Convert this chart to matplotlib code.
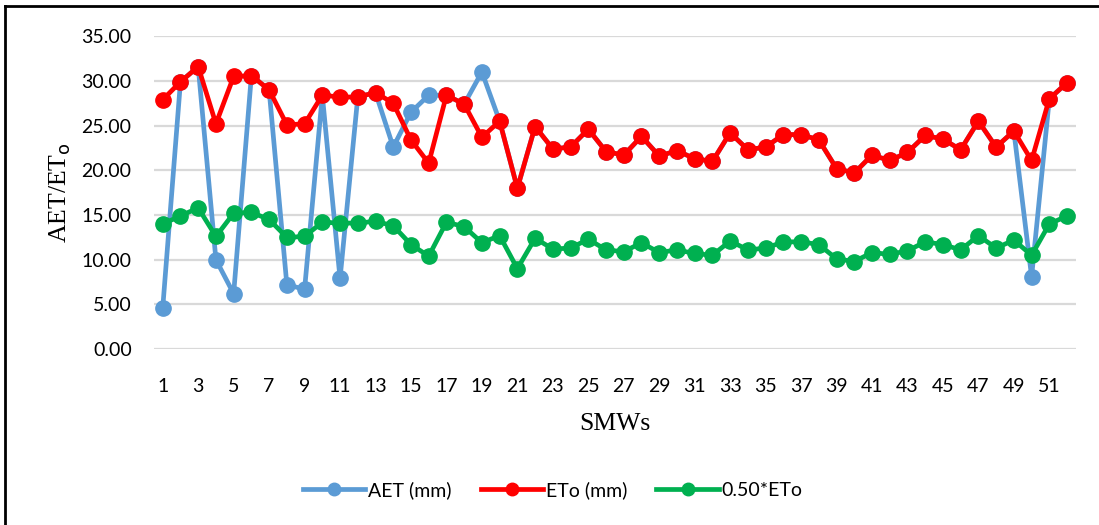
import matplotlib.pyplot as plt
from matplotlib.lines import Line2D
import numpy as np

# standard meteorological weeks
weeks = list(range(1, 53))

aet = [4.6, 29.9, 31.6, 10.0, 6.2, 30.6, 29.0, 7.2, 6.7, 28.4,
       7.9, 28.2, 28.7, 22.6, 26.5, 28.4, 28.4, 27.4, 31.0, 25.5,
       18.0, 24.9, 22.4, 22.6, 24.6, 22.1, 21.7, 23.8, 21.6, 22.2,
       21.3, 21.0, 24.2, 22.3, 22.6, 24.0, 24.0, 23.4, 20.2, 19.7,
       21.7, 21.1, 22.0, 23.9, 23.5, 22.3, 25.5, 22.6, 24.4, 8.1,
       28.0, 29.8]

eto = [27.9, 29.9, 31.6, 25.2, 30.5, 30.6, 29.0, 25.1, 25.2, 28.4,
       28.2, 28.2, 28.7, 27.5, 23.4, 20.8, 28.4, 27.4, 23.7, 25.5,
       18.0, 24.9, 22.4, 22.6, 24.6, 22.1, 21.7, 23.8, 21.6, 22.2,
       21.3, 21.0, 24.2, 22.3, 22.6, 24.0, 24.0, 23.4, 20.2, 19.7,
       21.7, 21.1, 22.0, 23.9, 23.5, 22.3, 25.5, 22.6, 24.4, 21.1,
       28.0, 29.8]

half_eto = [14.0, 14.9, 15.8, 12.6, 15.2, 15.3, 14.5, 12.5, 12.6, 14.2,
            14.1, 14.1, 14.3, 13.8, 11.7, 10.4, 14.2, 13.7, 11.9, 12.7,
            9.0, 12.4, 11.2, 11.3, 12.3, 11.1, 10.9, 11.9, 10.8, 11.1,
            10.7, 10.5, 12.1, 11.1, 11.3, 12.0, 12.0, 11.7, 10.1, 9.8,
            10.8, 10.6, 11.0, 12.0, 11.7, 11.1, 12.7, 11.3, 12.2, 10.5,
            14.0, 14.9]

fig = plt.figure(figsize=(10.99, 5.25), dpi=100)
ax = fig.add_axes([0.140, 0.335, 0.839, 0.596])

lw = 3.4
ms = 11
ax.plot(weeks, aet, color='#5B9BD5', lw=lw, marker='o', ms=ms, label='AET (mm)', zorder=3)
ax.plot(weeks, eto, color='#FF0000', lw=lw, marker='o', ms=ms, label='ETo (mm)', zorder=4)
ax.plot(weeks, half_eto, color='#00B050', lw=lw, marker='o', ms=ms, label='0.50*ETo', zorder=5)

ax.set_xlim(0.5, 52.5)
ax.set_ylim(0, 35)
ax.set_yticks(np.arange(0, 36, 5))
ax.set_yticklabels([f'{v:.2f}' for v in np.arange(0, 36, 5)])
ax.set_xticks(range(1, 53, 2))

for s in ax.spines.values():
    s.set_visible(False)
ax.tick_params(length=0, labelsize=14)
ax.tick_params(axis='y', pad=16)
ax.tick_params(axis='x', pad=21)
for lab in ax.get_xticklabels() + ax.get_yticklabels():
    lab.set_fontfamily('Lato')
ax.grid(axis='y', color='#D9D9D9', lw=1.6)
ax.set_axisbelow(True)

serif = 'Liberation Serif'
plt.rcParams['mathtext.fontset'] = 'custom'
plt.rcParams['mathtext.rm'] = serif
ax.set_ylabel('AET/ET$_\\mathrm{o}$', fontsize=18.5, family=serif, labelpad=6)
ax.set_xlabel('SMWs', fontsize=18.5, family=serif, labelpad=13)

handles = [Line2D([], [], color=c, lw=lw, marker='o', ms=9)
           for c in ['#5B9BD5', '#FF0000', '#00B050']]
fig.legend(handles, ['AET (mm)', 'ETo (mm)', '0.50*ETo'], loc='center',
           bbox_to_anchor=(0.503, 0.067), ncol=3, frameon=False,
           prop={'family': 'Lato', 'size': 14}, handlelength=3.2,
           handletextpad=0.15, columnspacing=1.5)

# chart border (top and left edges)
fig.add_artist(Line2D([0.0045, 0.0045], [0, 0.989], color='black', lw=2, transform=fig.transFigure))
fig.add_artist(Line2D([0.0045, 1.0], [0.989, 0.989], color='black', lw=2, transform=fig.transFigure))

fig.savefig('out.png', dpi=100)
